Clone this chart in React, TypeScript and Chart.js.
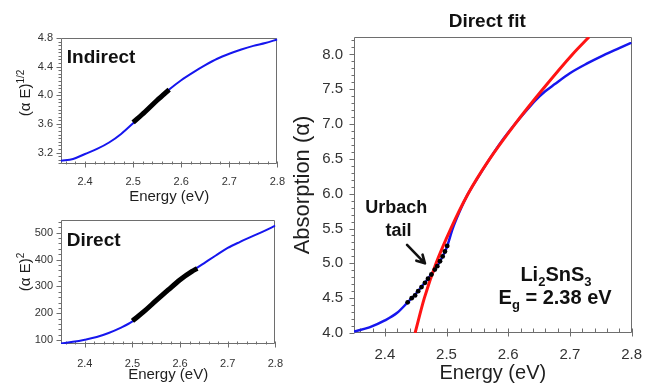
import React, { useEffect, useRef } from "react";
import { Chart, registerables } from "chart.js";

Chart.register(...registerables);

const FONT = "'Liberation Sans', Arial, Helvetica, sans-serif";
const BLUE = "#1616ee";
const RED = "#ff1414";
const AXIS = "#6e6e6e";
const TICK_TXT = "#333333";
const TITLE_TXT = "#1e1e1e";

// ---------- tick labels ----------
const energyTicks = [2.4, 2.5, 2.6, 2.7, 2.8];
const indirectTicks = [3.2, 3.6, 4.0, 4.4, 4.8];
const directTicks = [100, 200, 300, 400, 500];
const absorptionTicks = [4.0, 4.5, 5.0, 5.5, 6.0, 6.5, 7.0, 7.5, 8.0];

// ---------- Indirect panel: (alpha E)^1/2 ----------
const indirectEnergy = [2.35, 2.375, 2.4, 2.425, 2.45, 2.475, 2.5, 2.525, 2.55, 2.575, 2.6, 2.625, 2.65, 2.675, 2.7, 2.725, 2.75, 2.775, 2.8];
const indirectValue = [3.085, 3.11, 3.18, 3.25, 3.34, 3.46, 3.61, 3.77, 3.93, 4.08, 4.21, 4.32, 4.42, 4.51, 4.58, 4.64, 4.69, 4.73, 4.78];
const indirectFitEnergy = [2.5, 2.525, 2.55, 2.575];
const indirectFitValue = [3.62, 3.77, 3.93, 4.08];

// ---------- Direct panel: (alpha E)^2 ----------
const directEnergy = [2.35, 2.375, 2.4, 2.425, 2.45, 2.475, 2.5, 2.525, 2.55, 2.575, 2.6, 2.625, 2.65, 2.675, 2.7, 2.725, 2.75, 2.775, 2.8];
const directValue = [88, 94, 102, 112, 127, 146, 170, 207, 248, 287, 325, 357, 386, 415, 443, 465, 485, 505, 526];
const directFitEnergy = [2.5, 2.525, 2.55, 2.575, 2.6, 2.625, 2.636];
const directFitValue = [172, 208, 248, 287, 325, 356, 367];

// ---------- Direct fit panel: absorption ----------
const absEnergy = [2.35, 2.375, 2.4, 2.42, 2.437, 2.45, 2.46, 2.47, 2.48, 2.49, 2.5, 2.51, 2.52, 2.535, 2.55, 2.57, 2.59, 2.611, 2.63, 2.643, 2.66, 2.675, 2.7, 2.728, 2.755, 2.78, 2.8];
const absValue = [4.02, 4.08, 4.18, 4.29, 4.44, 4.56, 4.67, 4.78, 4.9, 5.04, 5.22, 5.5, 5.72, 6.0, 6.22, 6.5, 6.76, 7.0, 7.2, 7.33, 7.47, 7.57, 7.73, 7.87, 7.99, 8.09, 8.17];
const fitEnergy = [2.449, 2.464, 2.483, 2.507, 2.535, 2.57, 2.611, 2.656, 2.704, 2.731];
const fitValue = [4.0, 4.5, 5.0, 5.5, 6.0, 6.5, 7.0, 7.5, 8.0, 8.25];
const urbachEnergy = [2.437, 2.4435, 2.449, 2.454, 2.4595, 2.465, 2.47, 2.4755, 2.481, 2.485, 2.4894, 2.4937, 2.4974, 2.5011];
const urbachValue = [4.44, 4.5, 4.54, 4.6, 4.66, 4.72, 4.78, 4.84, 4.91, 4.96, 5.03, 5.1, 5.17, 5.25];

type Seg = { t: string; k?: "sub" | "sup" };

function drawRich(ctx: CanvasRenderingContext2D, segs: Seg[], x: number, y: number, size: number, weight: string, align: "left" | "center", color: string) {
  const fontFor = (k?: string) => `${weight} ${k ? Math.round(size * 0.66) : size}px ${FONT}`;
  let total = 0;
  const widths = segs.map((s) => {
    ctx.font = fontFor(s.k);
    const w = ctx.measureText(s.t).width;
    total += w;
    return w;
  });
  let cx = align === "center" ? x - total / 2 : x;
  ctx.fillStyle = color;
  ctx.textAlign = "left";
  ctx.textBaseline = "alphabetic";
  segs.forEach((s, i) => {
    ctx.font = fontFor(s.k);
    const dy = s.k === "sub" ? size * 0.28 : s.k === "sup" ? -size * 0.42 : 0;
    ctx.fillText(s.t, cx, y + dy);
    cx += widths[i];
  });
}

type AxisTickStyle = { step: number; majorIn: number; majorOut: number; minorIn: number; minorOut: number };

function decoPlugin(xs: AxisTickStyle, ys: AxisTickStyle) {
  return {
    id: "deco",
    beforeDatasetsDraw(chart: any) {
      const { ctx, chartArea: a, scales } = chart;
      const sx = scales.x;
      const sy = scales.y;
      const L = Math.round(a.left) + 0.5;
      const R = Math.round(a.right) - 0.5;
      const T = Math.round(a.top) + 0.5;
      const B = Math.round(a.bottom) - 0.5;
      ctx.save();
      ctx.strokeStyle = AXIS;
      ctx.lineWidth = 1;
      ctx.beginPath();
      ctx.rect(L, T, R - L, B - T);
      ctx.stroke();
      const majorX = sx.ticks.map((t: any) => t.value);
      const majorY = sy.ticks.map((t: any) => t.value);
      const isMajor = (v: number, arr: number[], step: number) => arr.some((m) => Math.abs(m - v) < step * 0.01);
      ctx.beginPath();
      majorX.forEach((v: number) => {
        const p = Math.round(sx.getPixelForValue(v)) + 0.5;
        ctx.moveTo(p, B - xs.majorIn);
        ctx.lineTo(p, B + xs.majorOut);
      });
      for (let k = Math.ceil(sx.min / xs.step - 1e-6); k * xs.step <= sx.max + 1e-9; k++) {
        const v = k * xs.step;
        if (isMajor(v, majorX, xs.step)) continue;
        const p = Math.round(sx.getPixelForValue(v)) + 0.5;
        ctx.moveTo(p, B - xs.minorIn);
        ctx.lineTo(p, B + xs.minorOut);
      }
      majorY.forEach((v: number) => {
        const p = Math.round(sy.getPixelForValue(v)) + 0.5;
        ctx.moveTo(L + ys.majorIn, p);
        ctx.lineTo(L - ys.majorOut, p);
      });
      for (let k = Math.ceil(sy.min / ys.step - 1e-6); k * ys.step <= sy.max + 1e-9; k++) {
        const v = k * ys.step;
        if (isMajor(v, majorY, ys.step)) continue;
        const p = Math.round(sy.getPixelForValue(v)) + 0.5;
        ctx.moveTo(L + ys.minorIn, p);
        ctx.lineTo(L - ys.minorOut, p);
      }
      ctx.stroke();
      ctx.restore();
    },
  };
}

type Note = { segs: Seg[]; x: number; y: number; size: number; align: "left" | "center"; weight?: string };

function notesPlugin(notes: Note[], extra?: (chart: any) => void) {
  return {
    id: "notes",
    afterDatasetsDraw(chart: any) {
      const { ctx, scales } = chart;
      ctx.save();
      notes.forEach((n) => {
        const px = scales.x.getPixelForValue(n.x);
        const py = scales.y.getPixelForValue(n.y);
        drawRich(ctx, n.segs, px, py, n.size, n.weight ?? "bold", n.align, "#111111");
      });
      if (extra) extra(chart);
      ctx.restore();
    },
  };
}

function sideTitlePlugin(segs: Seg[], baselineX: number, centerY: number, size: number) {
  return {
    id: "sideTitle",
    afterDraw(chart: any) {
      const { ctx } = chart;
      ctx.save();
      ctx.translate(baselineX, centerY);
      ctx.rotate(-Math.PI / 2);
      drawRich(ctx, segs, 0, 0, size, "normal", "center", TITLE_TXT);
      ctx.restore();
    },
  };
}

function xScale(o: { tl: number; pad: number; size: number; h: number; titleSize: number; titlePb: number }) {
  return {
    type: "linear" as const,
    min: 2.35,
    max: 2.8,
    grid: { display: false, drawTicks: true, tickLength: o.tl },
    border: { display: false },
    ticks: {
      autoSkip: false,
      maxRotation: 0,
      padding: o.pad,
      color: TICK_TXT,
      font: { family: FONT, size: o.size },
      callback: (v: any) => Number(v).toFixed(1),
    },
    afterBuildTicks: (s: any) => {
      s.ticks = energyTicks.map((v) => ({ value: v }));
    },
    afterFit: (s: any) => {
      s.height = o.h;
    },
    title: {
      display: true,
      text: "Energy (eV)",
      color: TITLE_TXT,
      font: { family: FONT, size: o.titleSize },
      padding: { top: 0, bottom: o.titlePb },
    },
  };
}

function yScale(o: { min: number; max: number; ticks: number[]; tl: number; pad: number; size: number; w: number; digits: number; title?: any }) {
  return {
    type: "linear" as const,
    min: o.min,
    max: o.max,
    grid: { display: false, drawTicks: true, tickLength: o.tl },
    border: { display: false },
    ticks: {
      autoSkip: false,
      padding: o.pad,
      color: TICK_TXT,
      font: { family: FONT, size: o.size },
      callback: (v: any) => Number(v).toFixed(o.digits),
    },
    afterBuildTicks: (s: any) => {
      s.ticks = o.ticks.map((v) => ({ value: v }));
    },
    afterFit: (s: any) => {
      s.width = o.w;
    },
    title: o.title ?? { display: false },
  };
}

const pts = (xs: number[], ys: number[]) => xs.map((x, i) => ({ x, y: ys[i] }));

const baseOptions = {
  animation: false as const,
  responsive: false,
  events: [] as any[],
  plugins: { legend: { display: false }, tooltip: { enabled: false }, title: { display: false } },
};

export default function App() {
  const refA = useRef<HTMLCanvasElement>(null);
  const refB = useRef<HTMLCanvasElement>(null);
  const refC = useRef<HTMLCanvasElement>(null);

  useEffect(() => {
    const charts: Chart[] = [];

    // ----- Indirect -----
    charts.push(
      new Chart(refA.current as HTMLCanvasElement, {
        type: "line",
        data: {
          datasets: [
            { data: pts(indirectFitEnergy, indirectFitValue), borderColor: "#000", borderWidth: 5, pointRadius: 0, borderCapStyle: "butt", cubicInterpolationMode: "monotone" },
            { data: pts(indirectEnergy, indirectValue), borderColor: BLUE, borderWidth: 2, pointRadius: 0, cubicInterpolationMode: "monotone" },
          ],
        } as any,
        options: {
          ...baseOptions,
          layout: { padding: { left: 0, right: 12, top: 38, bottom: 0 } },
          scales: {
            x: xScale({ tl: 6, pad: 5, size: 11, h: 46, titleSize: 15, titlePb: 4 }),
            y: yScale({ min: 3.04, max: 4.8, ticks: indirectTicks, tl: 5, pad: 3, size: 11, w: 61, digits: 1 }),
          },
        } as any,
        plugins: [
          decoPlugin({ step: 0.02, majorIn: 2, majorOut: 4, minorIn: 2, minorOut: 1 }, { step: 0.05, majorIn: 0, majorOut: 5, minorIn: 0, minorOut: 3 }),
          notesPlugin([{ segs: [{ t: "Indirect" }], x: 2.362, y: 4.45, size: 19, align: "left" }]),
          sideTitlePlugin([{ t: "(\u03B1 E)" }, { t: "1/2", k: "sup" }], 30, 93, 15),
        ] as any,
      })
    );

    // ----- Direct -----
    charts.push(
      new Chart(refB.current as HTMLCanvasElement, {
        type: "line",
        data: {
          datasets: [
            { data: pts(directFitEnergy, directFitValue), borderColor: "#000", borderWidth: 5, pointRadius: 0, borderCapStyle: "butt", cubicInterpolationMode: "monotone" },
            { data: pts(directEnergy, directValue), borderColor: BLUE, borderWidth: 2, pointRadius: 0, cubicInterpolationMode: "monotone" },
          ],
        } as any,
        options: {
          ...baseOptions,
          layout: { padding: { left: 0, right: 12, top: 10, bottom: 0 } },
          scales: {
            x: xScale({ tl: 6, pad: 7, size: 11, h: 42, titleSize: 15, titlePb: 2 }),
            y: yScale({ min: 86, max: 547, ticks: directTicks, tl: 5, pad: 3, size: 11, w: 61, digits: 0 }),
          },
        } as any,
        plugins: [
          decoPlugin({ step: 0.02, majorIn: 2, majorOut: 4, minorIn: 2, minorOut: 1 }, { step: 20, majorIn: 0, majorOut: 5, minorIn: 0, minorOut: 3 }),
          notesPlugin([{ segs: [{ t: "Direct" }], x: 2.362, y: 450, size: 19, align: "left" }]),
          sideTitlePlugin([{ t: "(\u03B1 E)" }, { t: "2", k: "sup" }], 30, 62, 15),
        ] as any,
      })
    );

    // ----- Direct fit -----
    const arrow = (chart: any) => {
      const { ctx, scales } = chart;
      const x1 = scales.x.getPixelForValue(2.436);
      const y1 = scales.y.getPixelForValue(5.266);
      const x2 = scales.x.getPixelForValue(2.465);
      const y2 = scales.y.getPixelForValue(5.0);
      const ang = Math.atan2(y2 - y1, x2 - x1);
      ctx.strokeStyle = "#111";
      ctx.lineWidth = 2.6;
      ctx.lineCap = "round";
      ctx.lineJoin = "round";
      ctx.beginPath();
      ctx.moveTo(x1, y1);
      ctx.lineTo(x2, y2);
      ctx.moveTo(x2 - 9 * Math.cos(ang - 0.5), y2 - 9 * Math.sin(ang - 0.5));
      ctx.lineTo(x2, y2);
      ctx.lineTo(x2 - 9 * Math.cos(ang + 0.5), y2 - 9 * Math.sin(ang + 0.5));
      ctx.stroke();
      drawRich(ctx, [{ t: "Direct fit" }], scales.x.getPixelForValue(2.566), 27, 19, "bold", "center", "#111111");
    };

    charts.push(
      new Chart(refC.current as HTMLCanvasElement, {
        type: "line",
        data: {
          datasets: [
            { data: pts(urbachEnergy, urbachValue), showLine: false, pointRadius: 2.4, pointBackgroundColor: "#000", pointBorderWidth: 0 },
            { data: pts(fitEnergy, fitValue), borderColor: RED, borderWidth: 3, pointRadius: 0, cubicInterpolationMode: "monotone", clip: 0 },
            { data: pts(absEnergy, absValue), borderColor: BLUE, borderWidth: 2.5, pointRadius: 0, cubicInterpolationMode: "monotone" },
          ],
        } as any,
        options: {
          ...baseOptions,
          layout: { padding: { left: 0, right: 12, top: 37, bottom: 0 } },
          scales: {
            x: xScale({ tl: 6, pad: 7, size: 15, h: 53, titleSize: 20, titlePb: 1 }),
            y: yScale({
              min: 4.0,
              max: 8.25,
              ticks: absorptionTicks,
              tl: 6,
              pad: 5,
              size: 15,
              w: 64,
              digits: 1,
              title: { display: true, text: "Absorption (\u03B1)", color: TITLE_TXT, font: { family: FONT, size: 22 }, padding: { top: 0, bottom: 0 } },
            }),
          },
        } as any,
        plugins: [
          decoPlugin({ step: 0.02, majorIn: 4, majorOut: 4, minorIn: 4, minorOut: 0 }, { step: 0.1, majorIn: 0, majorOut: 5, minorIn: 0, minorOut: 3 }),
          notesPlugin(
            [
              { segs: [{ t: "Urbach" }], x: 2.4184, y: 5.72, size: 18, align: "center" },
              { segs: [{ t: "tail" }], x: 2.422, y: 5.39, size: 18, align: "center" },
              { segs: [{ t: "Li" }, { t: "2", k: "sub" }, { t: "SnS" }, { t: "3", k: "sub" }], x: 2.6774, y: 4.75, size: 20, align: "center" },
              { segs: [{ t: "E" }, { t: "g", k: "sub" }, { t: " = 2.38 eV" }], x: 2.676, y: 4.42, size: 20, align: "center" },
            ],
            arrow
          ),
        ] as any,
      })
    );

    return () => charts.forEach((c) => c.destroy());
  }, []);

  return (
    <div style={{ position: "absolute", left: 0, top: 0, width: 649, height: 386, background: "#fff", overflow: "hidden" }}>
      <canvas ref={refA} width={290} height={210} style={{ position: "absolute", left: 0, top: 0 }} />
      <canvas ref={refB} width={290} height={176} style={{ position: "absolute", left: 0, top: 210 }} />
      <canvas ref={refC} width={359} height={386} style={{ position: "absolute", left: 290, top: 0 }} />
    </div>
  );
}
